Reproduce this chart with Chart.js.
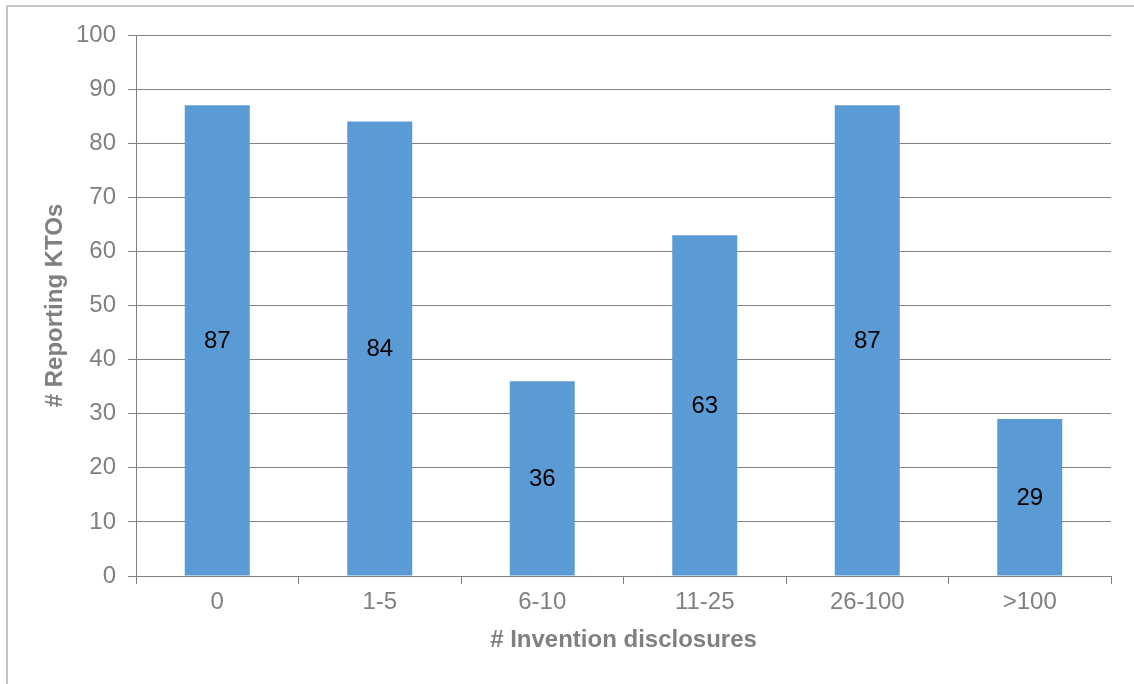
<!DOCTYPE html>
<html lang="en">
<head>
    <meta charset="UTF-8">
    <title>Invention disclosures</title>
    <script src="https://cdn.jsdelivr.net/npm/chart.js"></script>
    <style>
        body { margin: 0; background: white; }
        #chart { display: block; }
    </style>
</head>
<body>
    <canvas id="chart" width="1134" height="684"></canvas>

    <script>
        const categories = ['0', '1-5', '6-10', '11-25', '26-100', '>100'];
        const reportingKTOs = [87, 84, 36, 63, 87, 29];

        const gray = '#808080';
        const fontFamily = '"Liberation Sans", Arial, sans-serif';

        // outer frame (only top and left edges are visible in the image)
        const framePlugin = {
            id: 'frame',
            beforeDraw(chart) {
                const ctx = chart.ctx;
                ctx.save();
                ctx.strokeStyle = '#b3b3b3';
                ctx.lineWidth = 1.5;
                ctx.strokeRect(7, 6, 1200, 800);
                ctx.restore();
            }
        };

        // value labels drawn in the middle of each bar
        const valueLabels = {
            id: 'valueLabels',
            afterDatasetsDraw(chart) {
                const ctx = chart.ctx;
                ctx.save();
                ctx.font = '24px ' + fontFamily;
                ctx.fillStyle = '#000000';
                ctx.textAlign = 'center';
                ctx.textBaseline = 'middle';
                chart.getDatasetMeta(0).data.forEach((bar, i) => {
                    const p = bar.getCenterPoint();
                    ctx.fillText(chart.data.datasets[0].data[i], p.x, p.y + 1);
                });
                ctx.restore();
            }
        };

        new Chart(document.getElementById('chart'), {
            type: 'bar',
            data: {
                labels: categories,
                datasets: [{
                    label: '# Reporting KTOs',
                    data: reportingKTOs,
                    backgroundColor: '#5b9bd5',
                    borderWidth: 0,
                    barPercentage: 0.4,
                    categoryPercentage: 1
                }]
            },
            options: {
                responsive: false,
                animation: false,
                layout: { padding: { top: 35, right: 23, bottom: 0, left: 0 } },
                plugins: {
                    legend: { display: false },
                    tooltip: { enabled: false }
                },
                scales: {
                    x: {
                        afterFit: s => { s.height = 108; },
                        grid: {
                            offset: true,
                            drawOnChartArea: false,
                            drawTicks: true,
                            tickLength: 8,
                            color: gray
                        },
                        border: { display: true, color: gray, width: 1 },
                        ticks: {
                            color: gray,
                            padding: 4,
                            font: { family: fontFamily, size: 24 }
                        },
                        title: {
                            display: true,
                            text: '# Invention disclosures',
                            color: gray,
                            padding: { top: 0, bottom: 29 },
                            font: { family: fontFamily, size: 24, weight: 'bold' }
                        }
                    },
                    y: {
                        min: 0,
                        max: 100,
                        afterFit: s => { s.width = 136; },
                        grid: {
                            color: gray,
                            tickLength: 8,
                            lineWidth: 1
                        },
                        border: { display: true, color: gray, width: 1 },
                        ticks: {
                            stepSize: 10,
                            color: gray,
                            padding: 12,
                            font: { family: fontFamily, size: 24 }
                        },
                        title: {
                            display: true,
                            text: '# Reporting KTOs',
                            color: gray,
                            padding: { top: 41, bottom: 0 },
                            font: { family: fontFamily, size: 24, weight: 'bold' }
                        }
                    }
                }
            },
            plugins: [framePlugin, valueLabels]
        });
    </script>
</body>
</html>
